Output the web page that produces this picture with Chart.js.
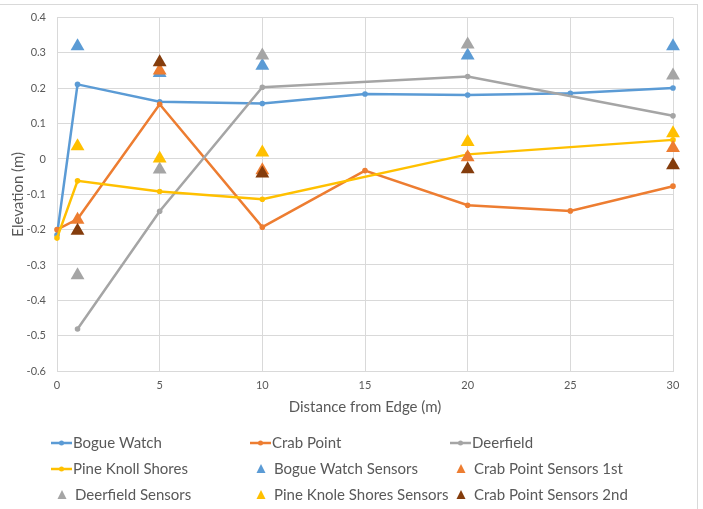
<!DOCTYPE html>
<html>
<head>
<meta charset="utf-8">
<script src="https://cdn.jsdelivr.net/npm/chart.js@4.4.1/dist/chart.umd.min.js"></script>
<style>
  html, body { margin: 0; padding: 0; background: #fff; }
  #wrap { position: relative; width: 703px; height: 509px; overflow: hidden; }
  #frame { position: absolute; left: -2px; top: 4px; width: 700px; height: 520px; border: 1px solid #d9d9d9; box-sizing: border-box; }
  canvas { position: absolute; left: 0; top: 0; }
</style>
</head>
<body>
<div id="wrap">
  <div id="frame"></div>
  <canvas id="c" width="703" height="509"></canvas>
</div>
<script>
// ---- data ----
const xTicks = [0, 5, 10, 15, 20, 25, 30];
const yTicks = [-0.6, -0.5, -0.4, -0.3, -0.2, -0.1, 0, 0.1, 0.2, 0.3, 0.4];

const bogueX = [0, 1, 5, 10, 15, 20, 25, 30];
const bogueY = [-0.215, 0.211, 0.162, 0.157, 0.184, 0.181, 0.186, 0.201];

const crabX = [0, 1, 5, 10, 15, 20, 25, 30];
const crabY = [-0.2, -0.17, 0.155, -0.193, -0.033, -0.131, -0.147, -0.077];

const deerX = [1, 5, 10, 20, 30];
const deerY = [-0.481, -0.148, 0.203, 0.233, 0.122];

const pineX = [0, 1, 5, 10, 20, 30];
const pineY = [-0.224, -0.062, -0.092, -0.114, 0.013, 0.054];

const bogueSensX = [1, 5, 10, 20, 30];
const bogueSensY = [0.319, 0.243, 0.264, 0.293, 0.319];

const crab1X = [1, 5, 10, 20, 30];
const crab1Y = [-0.172, 0.25, -0.032, 0.005, 0.031];

const deerSensX = [1, 5, 10, 20, 30];
const deerSensY = [-0.329, -0.03, 0.293, 0.324, 0.236];

const pineSensX = [1, 5, 10, 20, 30];
const pineSensY = [0.036, 0.001, 0.018, 0.048, 0.073];

const crab2X = [1, 5, 10, 20, 30];
const crab2Y = [-0.203, 0.274, -0.041, -0.029, -0.018];

const labels = ['Bogue Watch', 'Crab Point', 'Deerfield', 'Pine Knoll Shores',
  'Bogue Watch Sensors', 'Crab Point Sensors 1st', 'Deerfield Sensors',
  'Pine Knole Shores Sensors', 'Crab Point Sensors 2nd'];
const colors = ['#5B9BD5', '#ED7D31', '#A5A5A5', '#FFC000',
  '#5B9BD5', '#ED7D31', '#A5A5A5', '#FFC000', '#843C0C'];

function pts(xs, ys) { return xs.map((x, i) => ({ x: x, y: ys[i] })); }

const series = [
  [bogueX, bogueY], [crabX, crabY], [deerX, deerY], [pineX, pineY],
  [bogueSensX, bogueSensY], [crab1X, crab1Y], [deerSensX, deerSensY],
  [pineSensX, pineSensY], [crab2X, crab2Y]
];

const FONT = 'Lato, "Open Sans", sans-serif';
const TXT = '#595959';

const datasets = series.map((s, i) => {
  const isLine = i < 4;
  return {
    label: labels[i],
    data: pts(s[0], s[1]),
    showLine: isLine,
    borderColor: colors[i],
    backgroundColor: colors[i],
    borderWidth: isLine ? 2.5 : 0,
    pointStyle: isLine ? 'circle' : 'triangle',
    pointRadius: isLine ? 2.8 : 8,
    pointHoverRadius: isLine ? 2.8 : 8,
    pointBorderWidth: 0,
    tension: 0,
    clip: false,
    order: 20 - i
  };
});

const legendPlugin = {
  id: 'gridLegend',
  afterDraw(chart) {
    const ctx = chart.ctx;
    const colX = [51, 250, 450];
    const rowY = [443, 469, 495];
    ctx.save();
    ctx.font = '15px ' + FONT;
    ctx.textBaseline = 'middle';
    ctx.fillStyle = TXT;
    chart.data.datasets.forEach((ds, i) => {
      const col = i % 3, row = Math.floor(i / 3);
      const x = colX[col], y = rowY[row];
      if (ds.showLine) {
        ctx.strokeStyle = ds.borderColor;
        ctx.lineWidth = 2.5;
        ctx.beginPath();
        ctx.moveTo(x, y); ctx.lineTo(x + 21, y);
        ctx.stroke();
        ctx.fillStyle = ds.borderColor;
        ctx.beginPath();
        ctx.arc(x + 10.5, y, 2.5, 0, Math.PI * 2);
        ctx.fill();
      } else {
        ctx.fillStyle = ds.backgroundColor;
        ctx.beginPath();
        ctx.moveTo(x + 11, y - 5);
        ctx.lineTo(x + 15.5, y + 4);
        ctx.lineTo(x + 6.5, y + 4);
        ctx.closePath();
        ctx.fill();
      }
      ctx.fillStyle = TXT;
      ctx.textAlign = 'left';
      ctx.fillText(ds.label, x + (ds.showLine ? 22 : 24), y);
    });
    ctx.restore();
  }
};

new Chart(document.getElementById('c'), {
  type: 'scatter',
  data: { datasets: datasets },
  plugins: [legendPlugin],
  options: {
    responsive: false,
    animation: false,
    events: [],
    layout: { padding: { left: 0, right: 30, top: 17, bottom: 89 } },
    plugins: { legend: { display: false }, tooltip: { enabled: false } },
    scales: {
      x: {
        type: 'linear',
        min: 0, max: 30,
        afterBuildTicks: (s) => { s.ticks = xTicks.map(v => ({ value: v })); },
        afterFit: (s) => { s.height = 49; },
        grid: { color: '#d9d9d9', lineWidth: 1, drawTicks: false },
        border: { color: '#d9d9d9' },
        ticks: { color: TXT, font: { family: FONT, size: 11 }, padding: 8, maxRotation: 0 },
        title: { display: true, text: 'Distance from Edge (m)', color: TXT, font: { family: FONT, size: 15 }, padding: { top: 4, bottom: 4 } }
      },
      y: {
        type: 'linear',
        min: -0.6, max: 0.4,
        afterBuildTicks: (s) => { s.ticks = yTicks.map(v => ({ value: v })); },
        afterFit: (s) => { s.width = 57; },
        grid: { color: '#d9d9d9', lineWidth: 1, drawTicks: false },
        border: { display: false },
        ticks: {
          color: TXT, font: { family: FONT, size: 11 }, padding: 11,
          callback: (v) => (Math.round(v * 10) / 10).toString()
        },
        title: { display: true, text: 'Elevation (m)', color: TXT, font: { family: FONT, size: 15 }, padding: { top: 9, bottom: 0 } }
      }
    }
  }
});
</script>
</body>
</html>
